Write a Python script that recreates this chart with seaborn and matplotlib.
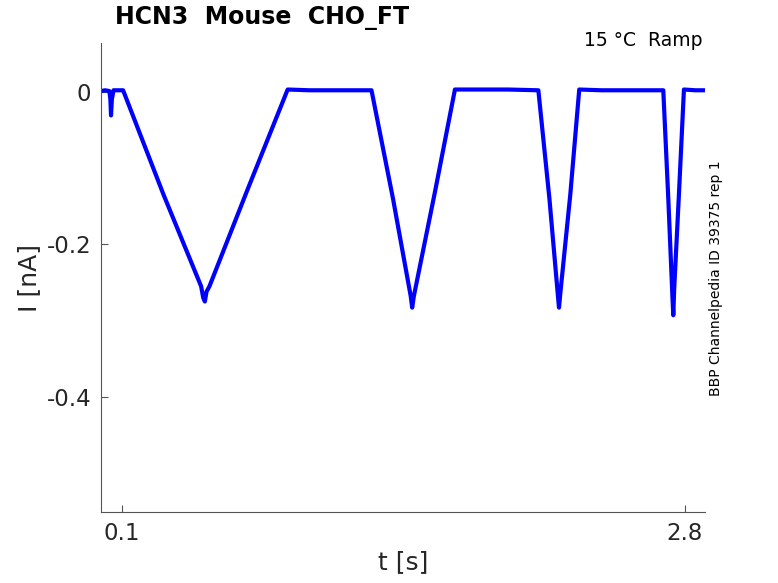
import matplotlib
matplotlib.use("Agg")
import matplotlib.pyplot as plt
import seaborn as sns
import pandas as pd

# Trace vertices (time in s, current in nA)
t_s = [0.000, 0.020, 0.040, 0.045, 0.048, 0.052, 0.060, 0.080, 0.106,
       0.300, 0.480, 0.490, 0.498, 0.506, 0.520, 0.700, 0.895,
       1.000, 1.150, 1.297, 1.400, 1.485, 1.492, 1.500, 1.600, 1.697,
       1.800, 1.950, 2.097, 2.150, 2.190, 2.196, 2.202, 2.250, 2.293,
       2.400, 2.550, 2.696, 2.720, 2.740, 2.744, 2.748, 2.770, 2.795,
       2.850, 2.896]
i_nA = [0.001, 0.002, 0.001, -0.010, -0.031, -0.010, 0.002, 0.002, 0.002,
        -0.135, -0.255, -0.270, -0.275, -0.262, -0.255, -0.130, 0.003,
        0.002, 0.002, 0.002, -0.140, -0.268, -0.283, -0.268, -0.133, 0.003,
        0.003, 0.003, 0.002, -0.140, -0.265, -0.283, -0.265, -0.135, 0.003,
        0.002, 0.002, 0.002, -0.140, -0.270, -0.293, -0.260, -0.140, 0.003,
        0.002, 0.002]

x_ticks = [0.1, 2.8]
x_tick_labels = ["0.1", "2.8"]
y_ticks = [0, -0.2, -0.4]
y_tick_labels = ["0", "-0.2", "-0.4"]

title_text = "HCN3  Mouse  CHO_FT"
cond_text = "15 °C  Ramp"
side_text = "BBP Channelpedia ID 39375 rep 1"

sns.set_style("white")
plt.rcParams["font.family"] = ["DejaVu Sans"]
plt.rcParams["axes.unicode_minus"] = False

fig = plt.figure(figsize=(7.78, 5.83), dpi=100)
ax = fig.add_axes([101 / 778, 1 - 512 / 583, (705 - 101) / 778, (512 - 43) / 583])

df = pd.DataFrame({"t": t_s, "I": i_nA})
sns.lineplot(data=df, x="t", y="I", ax=ax, color="#0000ff", linewidth=3.0,
             sort=False, estimator=None)

ax.set_xlim(0.0, 2.896)
ax.set_ylim(-0.551, 0.064)
ax.set_xticks(x_ticks)
ax.set_xticklabels(x_tick_labels)
ax.set_yticks(y_ticks)
ax.set_yticklabels(y_tick_labels)

for s in ["top", "right"]:
    ax.spines[s].set_visible(False)
for s in ["left", "bottom"]:
    ax.spines[s].set_color("#555555")
    ax.spines[s].set_linewidth(0.8)

ax.tick_params(axis="both", which="major", bottom=True, left=True,
               direction="in", length=5, width=0.8, color="#555555",
               labelsize=16.5, labelcolor="#262626", pad=7)
ax.set_xlabel("t [s]", fontsize=18, color="#262626", labelpad=4)
ax.set_ylabel("I [nA]", fontsize=18, color="#262626", labelpad=4)

fig.text(115 / 778, 1 - 18 / 583, title_text, fontsize=17, fontweight="bold",
         ha="left", va="center", color="black")
fig.text(703 / 778, 1 - 41 / 583, cond_text, fontsize=13.5, ha="right",
         va="center", color="black")
fig.text(716 / 778, 1 - 278 / 583, side_text, fontsize=10, rotation=90,
         ha="center", va="center", color="black")

fig.savefig("out.png", dpi=100)
